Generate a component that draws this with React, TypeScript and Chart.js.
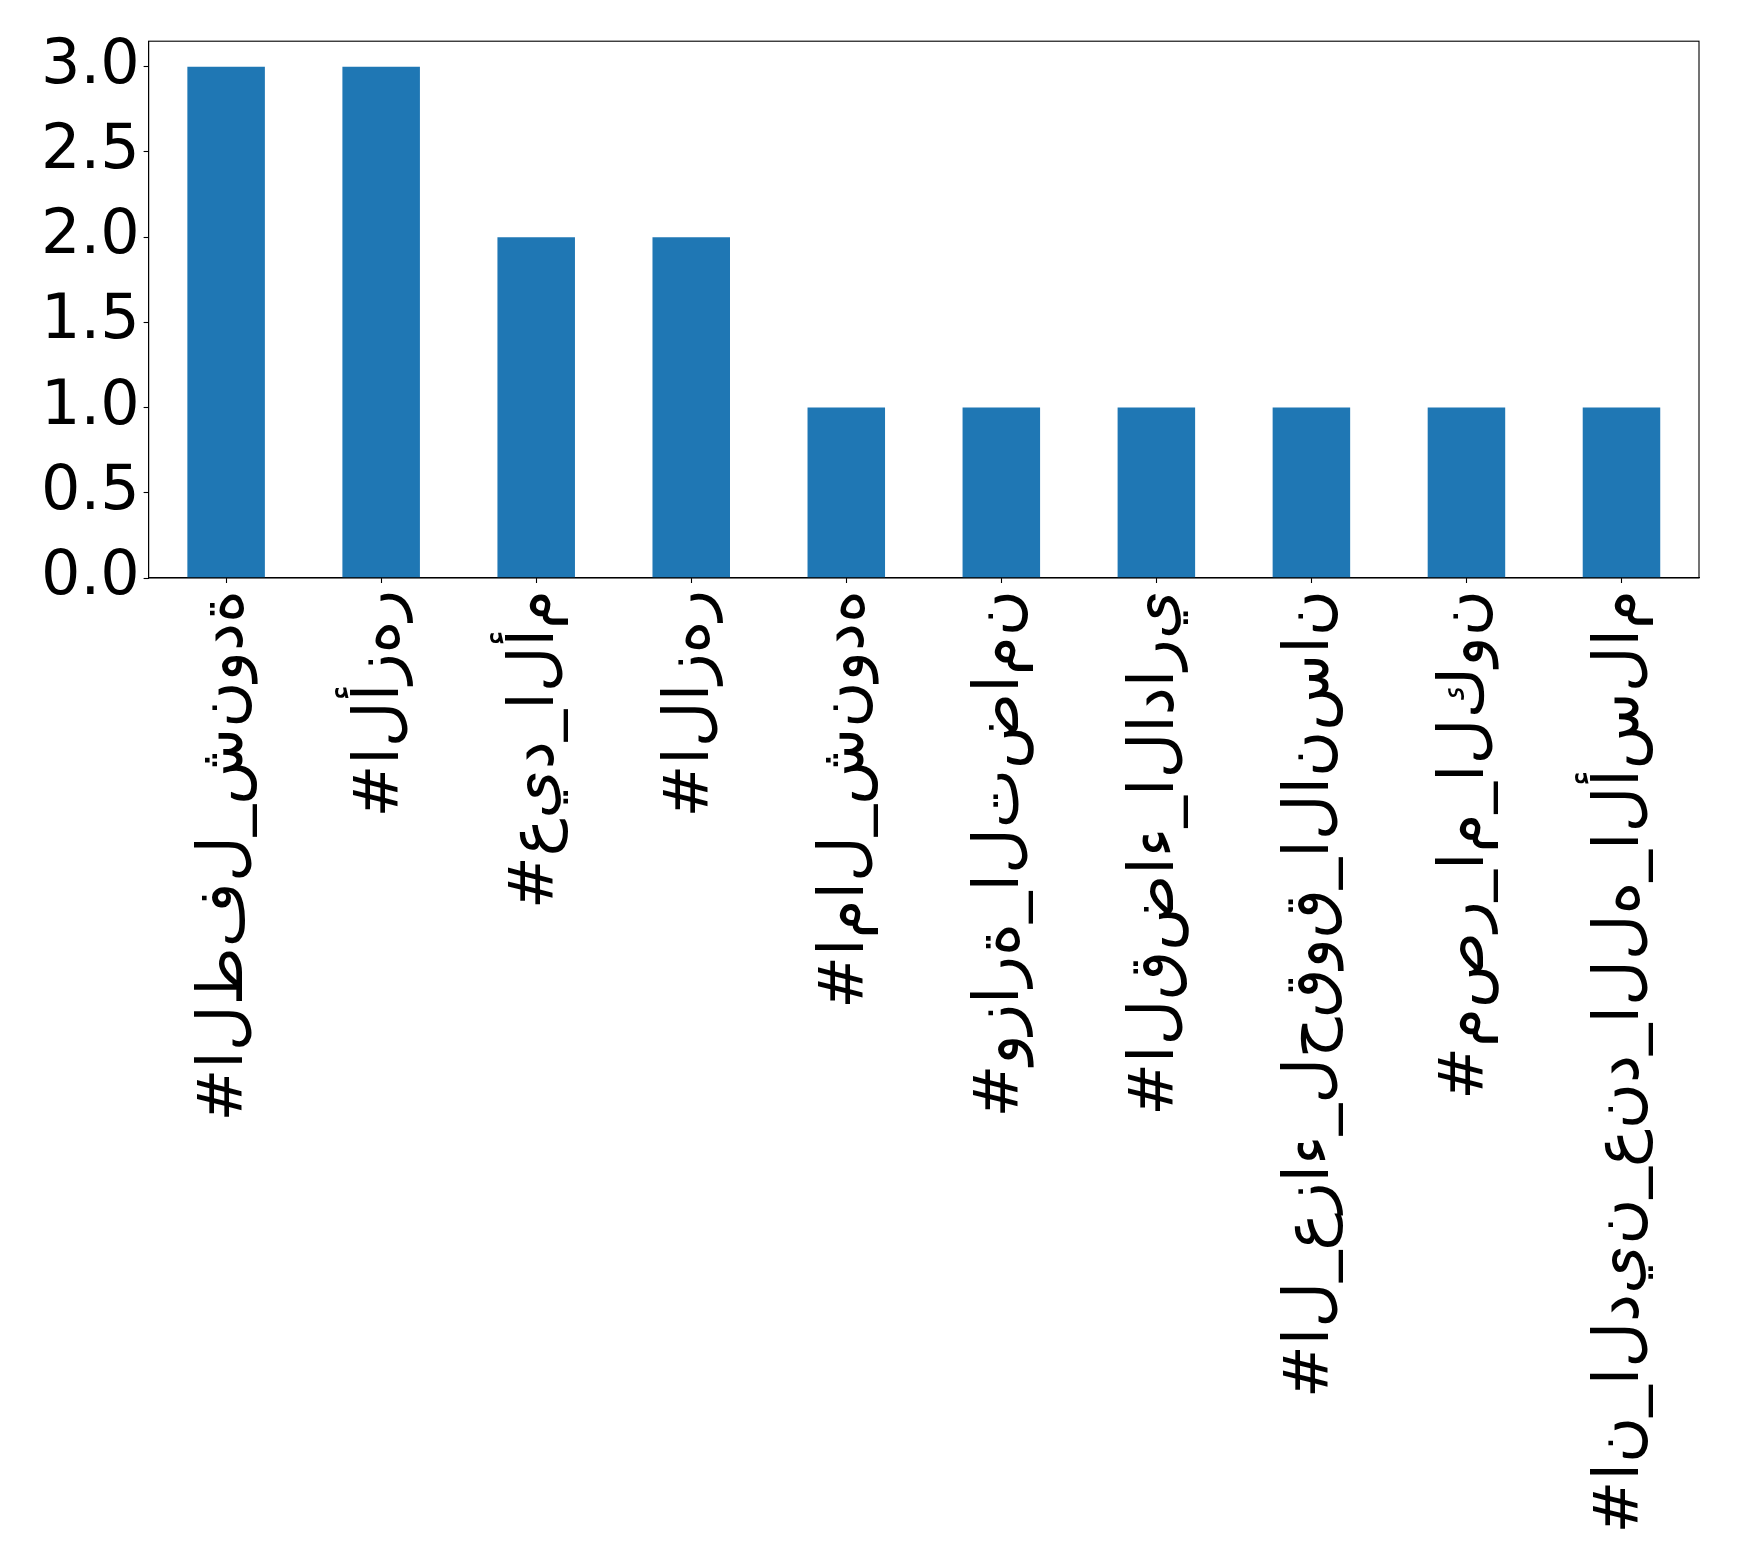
import React, { useEffect, useRef } from "react";
import { Chart, registerables } from "chart.js";

Chart.register(...registerables);

const categories = [
  "#الطفل_شنودة",
  "#الأزهر",
  "#عيد_الأم",
  "#الازهر",
  "#امال_شنوده",
  "#وزارة_التضامن",
  "#القضاء_الاداري",
  "#ال_عزاء_لحقوق_الانسان",
  "#مصر_ام_الكون",
  "#ان_الدين_عند_الله_الأسلام",
];
const counts = [3, 3, 2, 2, 1, 1, 1, 1, 1, 1];
const yTicks = [0, 0.5, 1.0, 1.5, 2.0, 2.5, 3.0];
const yMax = 3.15;

const W = 1739;
const H = 1564;
const FONT = "'DejaVu Sans', sans-serif";

// Render like the reference: letters unjoined, laid out left to right.
function unshape(s: string): string {
  return "\u202D" + Array.from(s).join("\u200C") + "\u202C";
}

const framePlugin = {
  id: "frame",
  afterDraw(chart: any) {
    const { ctx, chartArea } = chart;
    ctx.save();
    ctx.strokeStyle = "#000";
    ctx.lineWidth = 1.1;
    ctx.strokeRect(chartArea.left, chartArea.top, chartArea.right - chartArea.left, chartArea.bottom - chartArea.top);
    ctx.restore();
  },
};

export default function App() {
  const ref = useRef<HTMLCanvasElement | null>(null);
  useEffect(() => {
    document.body.style.margin = "0";
    const canvas = ref.current!;
    const chart = new Chart(canvas, {
      type: "bar",
      data: {
        labels: categories,
        datasets: [
          {
            data: counts,
            backgroundColor: "#1f77b4",
            borderWidth: 0,
            categoryPercentage: 1,
            barPercentage: 0.5,
          },
        ],
      },
      options: {
        responsive: false,
        animation: false,
        devicePixelRatio: 1,
        layout: { padding: { top: 40, right: 40, left: 0, bottom: 0 } },
        plugins: { legend: { display: false }, tooltip: { enabled: false } },
        scales: {
          x: {
            type: "category",
            offset: true,
            grid: { display: true, drawOnChartArea: false, tickLength: 5, tickColor: "#000", tickWidth: 1.1, offset: false },
            border: { color: "#000", width: 1.1 },
            ticks: {
              color: "#000",
              font: { family: FONT, size: 63 },
              maxRotation: 90,
              minRotation: 90,
              padding: 7,
              autoSkip: false,
              callback: (_v: any, i: number) => unshape(categories[i]),
            },
            afterFit: (s: any) => {
              s.height = H - 578;
            },
          },
          y: {
            min: 0,
            max: yMax,
            afterBuildTicks: (s: any) => {
              s.ticks = yTicks.map((v) => ({ value: v }));
            },
            grid: { display: true, drawOnChartArea: false, tickLength: 5, tickColor: "#000", tickWidth: 1.1 },
            border: { color: "#000", width: 1.1 },
            ticks: {
              color: "#000",
              font: { family: FONT, size: 62 },
              padding: 4,
              callback: (v: any) => Number(v).toFixed(1),
            },
            afterFit: (s: any) => {
              s.width = 148.6;
            },
          },
        },
      },
      plugins: [framePlugin],
    } as any);
    return () => chart.destroy();
  }, []);
  return <canvas ref={ref} width={W} height={H} style={{ display: "block", width: W, height: H }} />;
}
